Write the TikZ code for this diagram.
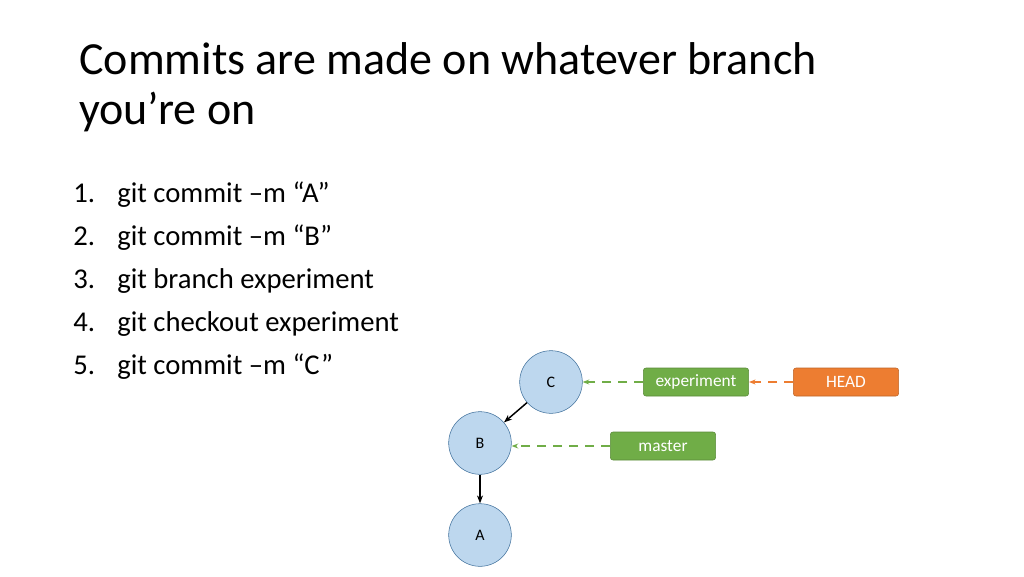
\documentclass[tikz,border=0pt]{standalone}
\usepackage{fontspec}
\setmainfont{Carlito}
\usetikzlibrary{arrows.meta}
\definecolor{cfill}{RGB}{189,215,238}
\definecolor{cline}{RGB}{65,113,156}
\definecolor{bgreen}{RGB}{112,173,71}
\definecolor{borange}{RGB}{237,125,49}
\tikzset{
  commit/.style={circle,draw=cline,fill=cfill,minimum size=47pt,inner sep=0pt,font=\fontsize{12}{14}\selectfont},
  branch/.style={rounded corners=2pt,draw=bgreen!80!black,fill=bgreen,text=white,minimum width=79pt,minimum height=21pt,inner sep=0pt,font=\fontsize{13}{15}\selectfont},
  headbox/.style={branch,draw=borange!80!black,fill=borange},
  parent/.style={-{Stealth[length=6pt]},line width=1.1pt},
  ref/.style={-{Stealth[length=5pt]},dash pattern={on 7pt off 5pt},line width=1.3pt}
}
\begin{document}
\begin{tikzpicture}[x=0.75pt,y=0.75pt,yscale=-1,xscale=1]
	\useasboundingbox (0,0) rectangle (1024,576);
	\draw (79,74) node [anchor=base west,inner sep=0pt,font=\fontsize{34.5}{40}\selectfont] {Commits are made on whatever branch};
	\draw (79,124) node [anchor=base west,inner sep=0pt,font=\fontsize{34.5}{40}\selectfont] {you’re on};
	\foreach \n/\t [count=\i] in {1/git commit –m “A”,2/git commit –m “B”,3/git branch experiment,4/git checkout experiment,5/git commit –m “C”}
	{
		\draw (73,{159+43*\i}) node [anchor=base west,inner sep=0pt,font=\fontsize{21.5}{26}\selectfont] {\n.};
		\draw (117,{159+43*\i}) node [anchor=base west,inner sep=0pt,font=\fontsize{21.5}{26}\selectfont] {\t};
	}
	\node [commit] (C) at (551,382) {C};
	\node [commit] (B) at (480,443) {B};
	\node [commit] (A) at (480,535) {A};
	\node [branch] (experiment) at (696,382) {experiment};
	\node [headbox] (HEAD) at (846,382) {HEAD};
	\node [branch] (master) at (663,446) {master};
	\draw [parent] (C) -- (B);
	\draw [parent] (B) -- (A);
	\draw [ref,bgreen] (experiment) -- (C);
	\draw [ref,bgreen] (master) -- (B.east |- master);
	\draw [ref,borange] (HEAD) -- (experiment);
\end{tikzpicture}
\end{document}
